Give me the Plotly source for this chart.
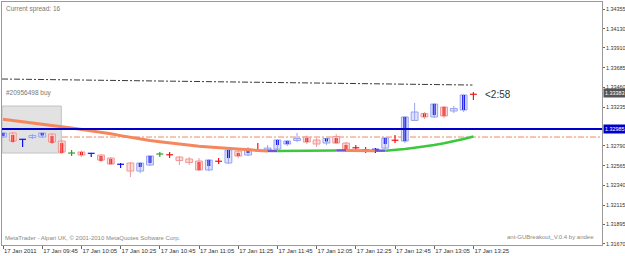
import plotly.graph_objects as go

# ---------------- data ----------------
tick_index = [0, 4, 8, 12, 16, 20, 24, 28, 32, 36, 40, 44, 48]
tick_labels = ["17 Jan 2011", "17 Jan 09:45", "17 Jan 10:05", "17 Jan 10:25", "17 Jan 10:45",
               "17 Jan 11:05", "17 Jan 11:25", "17 Jan 11:45", "17 Jan 12:05", "17 Jan 12:25",
               "17 Jan 12:45", "17 Jan 13:05", "17 Jan 13:25"]

price_ticks = [1.34355, 1.34130, 1.33910, 1.33685, 1.33460, 1.33235,
               1.32790, 1.32565, 1.32340, 1.32115, 1.31895, 1.31670]

opens = [1.32892, 1.32938, 1.32863, 1.32886, 1.32892, 1.32926, 1.32846, 1.32709, 1.32721, 1.32703,
         1.32686, 1.32652, 1.32578, 1.32595, 1.32503, 1.32572, 1.32698, 1.32692, 1.32663, 1.32641,
         1.32618, 1.32515, 1.32618, 1.32595, 1.32732, 1.32686, 1.32743, 1.32743, 1.32755, 1.32812,
         1.32852, 1.32892, 1.32858, 1.32823, 1.32898, 1.32823, 1.32772, 1.32749, 1.32749, 1.32766,
         1.32858, 1.32846, 1.33081, 1.33161, 1.33121, 1.33235, 1.33189, 1.33201, 1.33383]
highs = [1.32949, 1.32949, 1.32869, 1.32926, 1.32943, 1.32938, 1.32858, 1.32743, 1.32738, 1.32709,
         1.32698, 1.32663, 1.32595, 1.32606, 1.32606, 1.32686, 1.32721, 1.32721, 1.32675, 1.32663,
         1.32652, 1.32641, 1.32652, 1.32755, 1.32743, 1.32778, 1.32823, 1.32801, 1.32869, 1.32858,
         1.32938, 1.32909, 1.32881, 1.32881, 1.32926, 1.32835, 1.32801, 1.32778, 1.32766, 1.32892,
         1.32915, 1.33132, 1.33281, 1.33178, 1.33281, 1.33246, 1.33246, 1.33383, 1.33406]
lows = [1.32881, 1.32823, 1.32778, 1.32869, 1.32881, 1.32812, 1.32698, 1.32675, 1.32663, 1.32663,
        1.32606, 1.32572, 1.32538, 1.32435, 1.32480, 1.32561, 1.32663, 1.32652, 1.32572, 1.32572,
        1.32503, 1.32503, 1.32583, 1.32583, 1.32652, 1.32675, 1.32721, 1.32721, 1.32743, 1.32789,
        1.32835, 1.32812, 1.32778, 1.32801, 1.32812, 1.32721, 1.32743, 1.32709, 1.32709, 1.32755,
        1.32823, 1.32823, 1.33075, 1.33098, 1.33109, 1.33109, 1.33166, 1.33178, 1.33315]
closes = [1.32938, 1.32846, 1.32869, 1.32909, 1.32938, 1.32835, 1.32721, 1.32709, 1.32686, 1.32709,
          1.32629, 1.32583, 1.32583, 1.32503, 1.32595, 1.32675, 1.32698, 1.32686, 1.32623, 1.32601,
          1.32515, 1.32629, 1.32612, 1.32743, 1.32675, 1.32755, 1.32738, 1.32766, 1.32858, 1.32846,
          1.32875, 1.32835, 1.32812, 1.32875, 1.32823, 1.32743, 1.32766, 1.32743, 1.32755, 1.32881,
          1.32852, 1.33121, 1.33178, 1.33121, 1.33269, 1.33132, 1.33218, 1.33372, 1.33378]
# inner (indicator) bar of each candle: upper and lower price, None where absent
bar_upper = [1.32938, 1.32915, None, None, 1.32938, 1.32903, 1.32823, None, 1.32721, None,
             1.32675, 1.32641, None, None, 1.32595, 1.32675, None, None, None, None,
             1.32606, 1.32629, None, 1.32743, 1.32709, 1.32755, None, None, 1.32858, 1.32846,
             None, 1.32881, None, 1.32875, 1.32881, 1.32801, None, None, None, 1.32881,
             None, 1.33121, None, 1.33161, 1.33269, 1.33235, None, 1.33372, None]
bar_lower = [1.32903, 1.32835, None, None, 1.32909, 1.32823, 1.32709, None, 1.32686, None,
             1.32618, 1.32583, None, None, 1.32549, 1.32595, None, None, None, None,
             1.32515, 1.32561, None, 1.32652, 1.32675, 1.32709, None, None, 1.32801, 1.32812,
             None, 1.32835, None, 1.32841, 1.32823, 1.32743, None, None, None, 1.32812,
             None, 1.32846, None, 1.33121, 1.33143, 1.33132, None, 1.33201, None]

ma_values = [1.33094, 1.33081, 1.33066, 1.33052, 1.33037, 1.33023, 1.33009, 1.32994, 1.32979, 1.32964,
             1.32949, 1.32929, 1.32908, 1.32887, 1.32867, 1.32852, 1.32837, 1.32823, 1.32810, 1.32798,
             1.32787, 1.32778, 1.32769, 1.32759, 1.32751, 1.32745, 1.32739, 1.32733, 1.32733, 1.32734,
             1.32735, 1.32736, 1.32737, 1.32738, 1.32739, 1.32739, 1.32738, 1.32737, 1.32736, 1.32736,
             1.32743, 1.32755, 1.32769, 1.32783, 1.32801, 1.32820, 1.32843, 1.32869, 1.32898]

trend_x = [-0.1, 47.9]
trend_y = [1.33555, 1.33486]
level_blue = 1.32985
level_orange = 1.32892
range_box_x = [-0.1, 5.95]
range_box_y = [1.32709, 1.33246]
current_price = 1.33390
current_label = "1.33383"
timer_text = "<2:58"
order_text = "#20956498 buy"
order_price = 1.33395
spread_text = "Current spread: 16"
copyright_text = "MetaTrader - Alpari UK, \u00a9 2001-2010 MetaQuotes Software Corp."
ea_text = "ant-GUBreakout_V.0.4 by andee"

# ---------------- styles ----------------
FONT = "Liberation Sans, Arial, sans-serif"
BULL_LINE, BULL_FILL, BULL_DARK = "#97a3f2", "#dfe3fb", "#1010ee"
BEAR_LINE, BEAR_FILL, BEAR_DARK = "#f09898", "#fcdcd6", "#f01414"
DOJI_COLOR = "#2aa02a"
MA_DOWN, MA_UP, MA_FLAT = "#f5875c", "#3cc83c", "#6a5acd"

n = len(opens)
idx = list(range(n))
is_cross = [abs(opens[i] - closes[i]) < 0.0001 for i in idx]
is_bull = [closes[i] > opens[i] for i in idx]

fig = go.Figure()

# wicks of normal candles
for bull, col in [(True, BULL_LINE), (False, BEAR_LINE)]:
    xs, ys = [], []
    for i in idx:
        if not is_cross[i] and is_bull[i] == bull:
            xs += [i, i, None]
            ys += [lows[i], highs[i], None]
    fig.add_trace(go.Scatter(x=xs, y=ys, mode="lines", line=dict(color=col, width=1),
                             hoverinfo="skip", showlegend=False))

# bodies of normal candles
for bull, lc, fc in [(True, BULL_LINE, BULL_FILL), (False, BEAR_LINE, BEAR_FILL)]:
    sel = [i for i in idx if not is_cross[i] and is_bull[i] == bull]
    fig.add_trace(go.Bar(x=sel,
                         y=[abs(closes[i] - opens[i]) for i in sel],
                         base=[min(opens[i], closes[i]) for i in sel],
                         width=0.7, marker=dict(color=fc, line=dict(color=lc, width=1)),
                         hoverinfo="skip", showlegend=False))

# inner dark bars
for bull, col in [(True, BULL_DARK), (False, BEAR_DARK)]:
    sel = [i for i in idx if bar_upper[i] is not None and is_bull[i] == bull]
    fig.add_trace(go.Bar(x=sel,
                         y=[bar_upper[i] - bar_lower[i] for i in sel],
                         base=[bar_lower[i] for i in sel],
                         width=0.3, marker=dict(color=col, line=dict(width=0)),
                         hoverinfo="skip", showlegend=False))

# crosses (doji-like candles)
for kind, col in [("up", BULL_DARK), ("down", BEAR_DARK), ("flat", DOJI_COLOR)]:
    xs, ys = [], []
    for i in idx:
        if not is_cross[i]:
            continue
        k = "flat" if opens[i] == closes[i] else ("up" if is_bull[i] else "down")
        if k != kind:
            continue
        mid = (opens[i] + closes[i]) / 2
        xs += [i, i, None, i - 0.35, i + 0.35, None]
        ys += [lows[i], highs[i], None, mid, mid, None]
    fig.add_trace(go.Scatter(x=xs, y=ys, mode="lines", line=dict(color=col, width=1.2),
                             hoverinfo="skip", showlegend=False))

# moving average, coloured by direction
segs = []
for i in range(n - 1):
    d = ma_values[i + 1] - ma_values[i]
    c = MA_UP if d > 0 else (MA_DOWN if d < 0 else MA_FLAT)
    if segs and segs[-1][0] == c:
        segs[-1][1].append(i + 1)
    else:
        segs.append([c, [i, i + 1]])
for c, pts in segs:
    fig.add_trace(go.Scatter(x=pts, y=[ma_values[p] for p in pts], mode="lines",
                             line=dict(color=c, width=3 if c == MA_DOWN else 2.5),
                             hoverinfo="skip", showlegend=False))

# trend line (dash-dot)
fig.add_trace(go.Scatter(x=trend_x, y=trend_y, mode="lines",
                         line=dict(color="#3a3a3a", width=1, dash="6px,2px,2px,2px"),
                         hoverinfo="skip", showlegend=False))

shapes = [
    dict(type="rect", xref="x", yref="y", x0=range_box_x[0], x1=range_box_x[1],
         y0=range_box_y[0], y1=range_box_y[1], fillcolor="#e2e2e2",
         line=dict(color="#c4c4c4", width=1), layer="below"),
    dict(type="line", xref="paper", yref="y", x0=0, x1=1, y0=level_orange, y1=level_orange,
         line=dict(color="#f08a60", width=1, dash="6px,2px,2px,2px"), layer="below"),
    dict(type="line", xref="paper", yref="y", x0=0, x1=1, y0=level_blue, y1=level_blue,
         line=dict(color="#0000cd", width=2), layer="above"),
]

LABEL_SIZE = 5.4
annotations = [
    dict(text=spread_text, xref="paper", yref="paper", x=0, y=1, xanchor="left", yanchor="top",
         xshift=2, yshift=-1, showarrow=False, font=dict(family=FONT, size=6.5, color="#777")),
    dict(text=order_text, xref="paper", yref="y", x=0, y=order_price, xanchor="left",
         yanchor="middle", xshift=2, showarrow=False, font=dict(family=FONT, size=6.5, color="#777")),
    dict(text=timer_text, xref="x", yref="y", x=49.0, y=closes[-1], xanchor="left",
         yanchor="middle", showarrow=False, font=dict(family=FONT, size=10, color="#333")),
    dict(text=copyright_text, xref="paper", yref="paper", x=0, y=0, xanchor="left",
         yanchor="bottom", xshift=1, yshift=2, showarrow=False,
         font=dict(family=FONT, size=6, color="#888")),
    dict(text=ea_text, xref="paper", yref="paper", x=1, y=0, xanchor="right",
         yanchor="bottom", xshift=-6, yshift=3, showarrow=False,
         font=dict(family=FONT, size=6, color="#888")),
    dict(text=f"{level_blue:.5f}", xref="paper", yref="y", x=1, y=level_blue, xanchor="left",
         yanchor="middle", xshift=1, showarrow=False, bgcolor="#0000cd", borderpad=1,
         font=dict(family=FONT, size=LABEL_SIZE, color="white")),
    dict(text=current_label, xref="paper", yref="y", x=1, y=current_price, xanchor="left",
         yanchor="middle", xshift=1, showarrow=False, bgcolor="#555555", borderpad=1,
         font=dict(family=FONT, size=LABEL_SIZE, color="white")),
]

fig.update_layout(
    width=625, height=256,
    margin=dict(l=2, r=23, t=2, b=11, autoexpand=False),
    paper_bgcolor="white", plot_bgcolor="white",
    barmode="overlay", showlegend=False,
    shapes=shapes, annotations=annotations,
    font=dict(family=FONT, size=6, color="#333"),
    xaxis=dict(range=[-0.102, 61.12], showgrid=False, zeroline=False, automargin=False,
               showline=True, mirror=True, linecolor="#9a9a9a", linewidth=1,
               tickmode="array", tickvals=tick_index, ticktext=tick_labels, tickangle=0,
               ticks="outside", ticklen=3, tickcolor="#666",
               ticklabelposition="outside right",
               tickfont=dict(family=FONT, size=6, color="#333"), fixedrange=True),
    yaxis=dict(range=[1.31658, 1.34435], side="right", showgrid=False, zeroline=False,
               automargin=False,
               showline=True, mirror=True, linecolor="#9a9a9a", linewidth=1,
               tickmode="array", tickvals=price_ticks,
               ticktext=[f"{p:.5f}" for p in price_ticks],
               ticks="outside", ticklen=2, tickcolor="#666",
               tickfont=dict(family=FONT, size=LABEL_SIZE, color="#333"), fixedrange=True),
)

fig.write_html("out.html")
